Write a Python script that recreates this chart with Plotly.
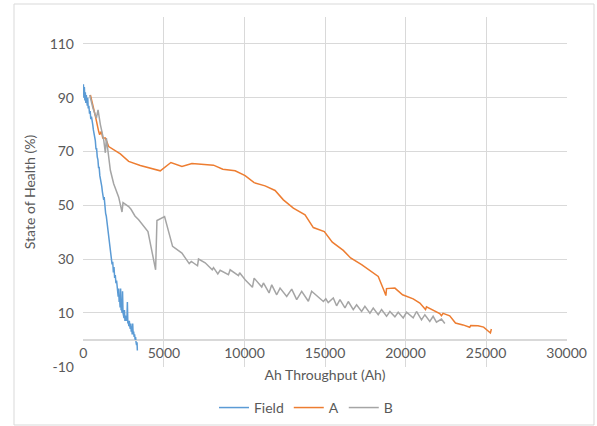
import plotly.graph_objects as go

# ---------------- data ----------------
field_x = [0, 30, 60, 90, 120, 150, 180, 210, 240, 270,
           300, 340, 380, 420, 460, 500, 540, 580, 620, 660,
           700, 740, 780, 820, 860, 900, 940, 980, 1020, 1060,
           1100, 1140, 1180, 1220, 1260, 1290, 1320, 1350, 1380, 1420,
           1460, 1500, 1540, 1580, 1620, 1660, 1700, 1740, 1780, 1820,
           1860, 1900, 1940, 1980, 2020, 2060, 2100, 2130, 2160, 2190,
           2220, 2250, 2280, 2310, 2340, 2370, 2400, 2430, 2460, 2490,
           2520, 2550, 2580, 2610, 2640, 2670, 2700, 2730, 2760, 2790,
           2820, 2850, 2880, 2910, 2940, 2970, 3000, 3030, 3060, 3090,
           3120, 3150, 3180, 3210, 3240, 3270, 3300, 3330, 3350]
field_y = [95, 90, 94, 89, 92, 88, 91, 89, 87, 90,
           86, 87, 84, 85, 82, 83, 80, 80, 78, 77,
           75, 74, 71, 71, 68, 67, 64, 64, 61, 60,
           58, 57, 55, 54, 52, 53, 49, 51, 47, 46,
           44, 42, 40, 38, 35, 34, 31, 29, 28, 29,
           25, 27, 23, 24, 21, 22, 18, 19, 16, 19,
           14, 15, 12, 19, 11, 12, 10, 18, 10, 9,
           8, 11, 7, 9, 7, 8, 7, 14, 6, 7,
           5, 7, 5, 4, 6, 3, 5, 2, 6, 2,
           3, 1, 2, 0, 1, -1, -2, -1, -4]

a_x = [434, 600, 750, 950, 1010, 1116, 1200, 1364, 1570, 2293,
       2810, 3533, 4773, 5433, 6117, 6737, 8078, 8655, 9421, 10041,
       10599, 11280, 11900, 12415, 13035, 13760, 14275, 14957, 15453, 16135,
       16590, 17272, 17790, 18305, 18660, 18780, 18820, 19340, 19815, 20475,
       20890, 21240, 21300, 21710, 22125, 22230, 22330, 22745, 23100, 23570,
       23985, 24050, 24500, 24850, 25120, 25270, 25330]
a_y = [91, 87, 83, 77.4, 76.2, 77.5, 75, 75, 71.8, 69.1,
       66.3, 64.8, 62.8, 65.9, 64.4, 65.5, 64.9, 63.4, 62.8, 61.0,
       58.4, 57.2, 55.5, 52, 48.9, 46.4, 41.7, 40.2, 36.3, 33.2,
       30.4, 27.9, 25.8, 23.5, 18.3, 16.4, 19, 19.2, 16.7, 15.2,
       13.6, 11.2, 12.2, 10.8, 9.7, 8.9, 9.8, 8.9, 6.2, 5.5,
       4.6, 5.3, 5.2, 4.7, 3.5, 2.5, 4]

b_x = [392, 600, 806, 909, 1054, 1260, 1364, 1426, 1673, 1880,
       2190, 2397, 2460, 2810, 2955, 3200, 3430, 4008, 4483, 4566,
       5040, 5537, 6117, 6570, 6700, 7085, 7147, 7560, 8000, 8078,
       8345, 8490, 9007, 9110, 9627, 9700, 10041, 10495, 10600, 11073,
       11176, 11528, 11693, 12003, 12210, 12623, 12933, 13243, 13553, 13966,
       14172, 14900, 15050, 15200, 15515, 15720, 15928, 16240, 16445, 16755,
       16962, 17272, 17478, 17790, 17995, 18305, 18512, 18822, 19028, 19340,
       19545, 19855, 20062, 20475, 20682, 20992, 21200, 21507, 21713, 21920,
       22230, 22440]
b_y = [91, 86, 82.4, 85.5, 80, 74.3, 69.5, 75, 63, 58,
       53, 47.5, 51, 49.5, 48.5, 46, 44.6, 40.2, 26, 44.3,
       45.8, 34.7, 32.2, 28.3, 29.1, 27.5, 30.0, 28.6, 26.0, 26.8,
       24.5, 25.8, 24.2, 26.0, 23.8, 24.9, 22.3, 19.5, 22.9, 19.6,
       21.1, 17.4, 20.4, 16.7, 19.2, 16.1, 18.8, 14.9, 18.0, 14.3,
       18.0, 14.2, 15.2, 13.8, 15.5, 12.6, 14.9, 11.8, 14.2, 11.2,
       13.0, 10.5, 12.4, 9.9, 11.8, 9.3, 11.2, 8.7, 10.5, 8.5,
       10.2, 8.1, 10.2, 8.1, 10.5, 7.4, 9.3, 6.8, 8.7, 6.5,
       7.7, 6.0]

series_names = ["Field", "A", "B"]
series_colors = ["#5B9BD5", "#ED7D31", "#A5A5A5"]

x_ticks = [0, 5000, 10000, 15000, 20000, 25000, 30000]
x_tick_labels = ["0", "5000", "10000", "15000", "20000", "25000", "30000"]
y_ticks = [-10, 10, 30, 50, 70, 90, 110]
y_tick_labels = ["-10", "10", "30", "50", "70", "90", "110"]

# ---------------- figure ----------------
FONT = "Lato"
FS = 14
TXT = "#595959"
GRID = "#D9D9D9"

fig = go.Figure()
for name, xs, ys, col in zip(series_names, [field_x, a_x, b_x], [field_y, a_y, b_y], series_colors):
    fig.add_trace(go.Scatter(x=xs, y=ys, mode="lines", name=name,
                             line=dict(color=col, width=1.5)))

y_min, y_max = -10.15, 120
x_min, x_max = -25, 30025
fig.update_layout(
    width=597, height=426,
    margin=dict(l=83, r=30, t=17, b=59, autoexpand=False),
    paper_bgcolor="white", plot_bgcolor="white",
    font=dict(family=FONT, size=FS, color=TXT),
    showlegend=True,
    legend=dict(orientation="h", x=0.4607, xanchor="center", y=-0.117, yanchor="middle",
                font=dict(family=FONT, size=FS, color=TXT), itemwidth=30,
                bgcolor="rgba(0,0,0,0)"),
    xaxis=dict(range=[x_min, x_max], tickvals=x_ticks, ticktext=x_tick_labels,
               showgrid=True, gridcolor=GRID, gridwidth=1, automargin=False,
               zeroline=False, showline=True, linecolor=GRID, linewidth=1,
               anchor="free", position=(0 - y_min) / (y_max - y_min),
               ticks="", tickfont=dict(family=FONT, size=FS, color=TXT),
               title=dict(text="Ah Throughput (Ah)", font=dict(family=FONT, size=FS, color=TXT), standoff=10)),
    yaxis=dict(range=[y_min, y_max], tickvals=y_ticks, ticktext=y_tick_labels,
               showgrid=True, gridcolor=GRID, gridwidth=1, automargin=False,
               zeroline=True, zerolinecolor=GRID, zerolinewidth=1, showline=False,
               ticks="", ticklabelstandoff=8, tickfont=dict(family=FONT, size=FS, color=TXT),
               title=dict(text="State of Health (%)", font=dict(family=FONT, size=FS, color=TXT), standoff=10)),
)

# outer chart border
fig.add_shape(type="rect", xref="paper", yref="paper",
              x0=(14 - 83) / 484, x1=(594 - 83) / 484,
              y0=(367 - 425) / 350, y1=(367 - 4) / 350,
              line=dict(color=GRID, width=1), fillcolor="rgba(0,0,0,0)", layer="below")

fig.write_html("out.html", config={"displayModeBar": False},
               post_script="document.body.style.margin='0';")
